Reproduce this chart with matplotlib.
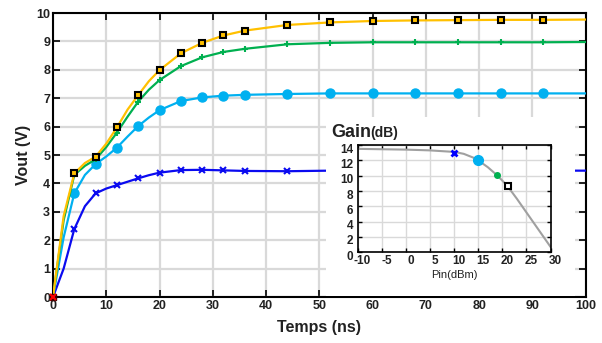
import matplotlib.pyplot as plt
from matplotlib.patches import Rectangle
from matplotlib.transforms import ScaledTranslation

plt.rcParams['font.family'] = ['Liberation Sans', 'DejaVu Sans']
plt.rcParams['axes.unicode_minus'] = False

# time axis (ns) and the four Vout curves
t = [0, 2, 4, 6, 8, 10, 12, 14, 16, 18, 20, 24, 28, 32, 36, 44, 52, 60, 68, 76, 84, 92, 100]
v_yellow = [0, 2.85, 4.35, 4.72, 4.94, 5.40, 5.97, 6.60, 7.11, 7.60, 7.99, 8.58, 8.95, 9.21,
            9.38, 9.58, 9.67, 9.72, 9.74, 9.75, 9.76, 9.76, 9.77]
v_green = [0, 2.7, 4.30, 4.62, 4.85, 5.28, 5.79, 6.35, 6.88, 7.30, 7.64, 8.13, 8.44, 8.63,
           8.74, 8.90, 8.95, 8.97, 8.97, 8.97, 8.97, 8.97, 8.98]
v_cyan = [0, 2.1, 3.65, 4.30, 4.68, 4.95, 5.26, 5.65, 6.02, 6.32, 6.58, 6.90, 7.03, 7.09,
          7.12, 7.15, 7.17, 7.17, 7.17, 7.17, 7.17, 7.17, 7.17]
v_blue = [0, 1.0, 2.39, 3.20, 3.65, 3.82, 3.94, 4.06, 4.18, 4.29, 4.38, 4.47, 4.48, 4.46,
          4.44, 4.43, 4.45, 4.45, 4.45, 4.45, 4.45, 4.45, 4.45]
mark_idx = [2, 4, 6, 8, 10, 11, 12, 13, 14, 15, 16, 17, 18, 19, 20, 21]

# inset: gain vs input power
pin = [-10, -5, 0, 5, 10, 12, 14, 15, 17, 19, 21, 23, 25, 27, 29, 30]
gain = [13.5, 13.45, 13.4, 13.3, 13.1, 12.85, 12.35, 12.0, 11.1, 10.0, 8.7, 7.0, 5.2, 3.4, 1.6, 0.7]
op_pin = [10, 15, 18.9, 21.1]
op_gain = [12.9, 12.0, 10.1, 8.6]

c_yellow = '#FFC000'
c_green = '#00B050'
c_cyan = '#00B0F0'
c_blue = '#0A0AF0'

fig = plt.figure(figsize=(6.02, 3.43), dpi=100)
ax = fig.add_axes([0.088, 0.134, 0.885, 0.828])

ax.plot(t, v_blue, color=c_blue, lw=1.6, marker='x', ms=5, mew=1.5, markevery=mark_idx, zorder=3)
ax.plot(t, v_cyan, color=c_cyan, lw=1.6, marker='o', ms=6.5, markevery=mark_idx, zorder=3)
ax.plot(t, v_green, color=c_green, lw=1.6, marker='+', ms=4, mew=1.5, markevery=mark_idx, zorder=3)
ax.plot(t, v_yellow, color=c_yellow, lw=1.6, marker='s', ms=4.5, mfc=c_yellow, mec='black',
        mew=1.5, markevery=mark_idx, zorder=3)
ax.plot([0], [0], marker='s', ms=5, color='#400000', zorder=4, clip_on=False)
ax.plot([0], [0], marker='x', ms=5, mew=1.5, color='red', zorder=5, clip_on=False)

ax.set_xlim(0, 100)
ax.set_ylim(0, 10)
ax.set_xticks(range(0, 101, 10))
ax.set_yticks(range(0, 11))
ax.grid(True, color='#d9d9d9', lw=1.6)
ax.set_axisbelow(True)
ax.tick_params(direction='in', top=True, right=True, length=5, width=1.2,
               labelsize=9, pad=2)
for lab in ax.get_xticklabels() + ax.get_yticklabels():
    lab.set_fontweight('bold')
    lab.set_color('#222222')
for s in ax.spines.values():
    s.set_linewidth(1.5)
ax.set_xlabel('Temps (ns)', fontsize=11.5, fontweight='bold', color='#222222', labelpad=6)
ax.set_ylabel('Vout (V)', fontsize=11.5, fontweight='bold', color='#222222', labelpad=4)

# white area behind the inset
ax.add_patch(Rectangle((51.2, 0.04), 46.7, 6.3, facecolor='white', edgecolor='none', zorder=3.5))

ins = fig.add_axes([0.594, 0.2644, 0.3206, 0.3128])
ins.plot(pin, gain, color='#a0a0a0', lw=1.5)
ins.plot(op_pin[0], op_gain[0], marker='x', ms=5, mew=2, color='blue', ls='none')
ins.plot(op_pin[1], op_gain[1], marker='o', ms=7, color=c_cyan, ls='none')
ins.plot(op_pin[2], op_gain[2], marker='o', ms=4, color=c_green, ls='none')
ins.plot(op_pin[3], op_gain[3], marker='s', ms=4.5, mfc='white', mec='black', mew=1.5, ls='none')
ins.set_xlim(-10, 30)
ins.set_ylim(0, 14)
ins.set_xticks(range(-10, 31, 5))
ins.set_yticks(range(0, 15, 2))
ins.grid(True, color='#d9d9d9', lw=1.0)
ins.set_axisbelow(True)
ins.tick_params(direction='in', top=True, right=True, length=3, width=1,
                labelsize=8.5, pad=2)
ins.tick_params(axis='y', pad=3)
shift_down = ScaledTranslation(0, -3 / 100, fig.dpi_scale_trans)
shift_right = ScaledTranslation(5 / 100, 0, fig.dpi_scale_trans)
for lab in ins.get_yticklabels():
    lab.set_transform(lab.get_transform() + shift_down)
for lab in ins.get_xticklabels():
    lab.set_transform(lab.get_transform() + shift_right)
for lab in ins.get_xticklabels() + ins.get_yticklabels():
    lab.set_fontweight('bold')
    lab.set_color('#222222')
for s in ins.spines.values():
    s.set_linewidth(1.2)
ins.set_xlabel('Pin(dBm)', fontsize=8, color='#222222', labelpad=2)

fig.text(331 / 602, 1 - 137 / 343, 'Gain', fontsize=13, fontweight='bold', color='#222222',
         va='baseline')
fig.text(370 / 602, 1 - 137 / 343, '(dB)', fontsize=10, fontweight='bold', color='#222222',
         va='baseline')

fig.savefig('out.png', dpi=100)
